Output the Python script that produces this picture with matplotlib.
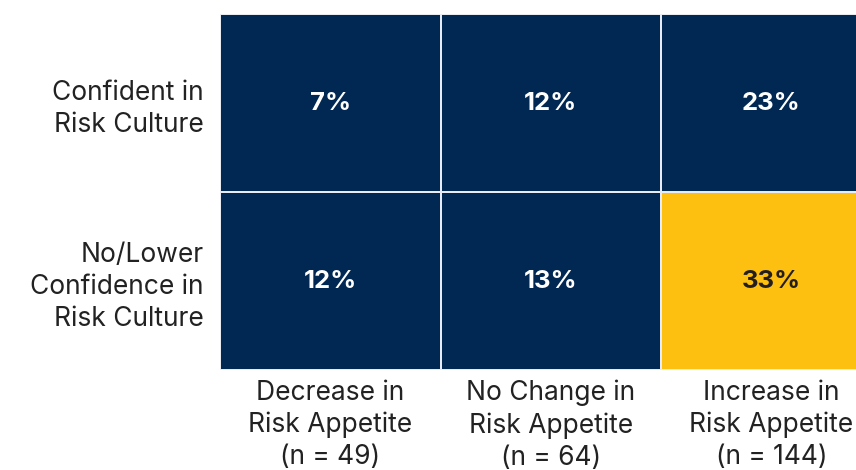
import numpy as np
import matplotlib
matplotlib.use("Agg")
import matplotlib.pyplot as plt
from matplotlib.colors import ListedColormap

# ---------- data ----------
row_labels = ["Confident in\nRisk Culture", "No/Lower\nConfidence in\nRisk Culture"]
col_labels = ["Decrease in\nRisk Appetite\n(n = 49)",
              "No Change in\nRisk Appetite\n(n = 64)",
              "Increase in\nRisk Appetite\n(n = 144)"]
values = np.array([[7, 12, 23],
                   [12, 13, 33]])
highlight = np.array([[0, 0, 0],
                      [0, 0, 1]])

NAVY = "#012753"; GOLD = "#FDC010"; DARK = "#231F20"
plt.rcParams["font.family"] = ["Inter", "DejaVu Sans"]

W, H = 856, 470
fig = plt.figure(figsize=(W/100, H/100), dpi=100)
ax = fig.add_axes([220/W, 100/H, 636/W, 356/H])

ax.pcolormesh(np.arange(4), np.arange(3), highlight, cmap=ListedColormap([NAVY, GOLD]),
              vmin=0, vmax=1, edgecolors="#e8ecf2", linewidth=1.2)
ax.set_xlim(0, 636/220.5)
ax.set_ylim(2, 0)

for i in range(values.shape[0]):
    for j in range(values.shape[1]):
        ax.text(j + 0.5, i + 0.5, f"{values[i, j]}%", ha="center", va="center",
                fontsize=18.5, fontweight="bold",
                color=DARK if highlight[i, j] else "white")

ax.set_xticks(np.arange(3) + 0.5)
ax.set_xticklabels(col_labels, fontsize=19, color="#222222", linespacing=1.3)
ax.set_yticks(np.arange(2) + 0.5)
ax.set_yticklabels(row_labels, fontsize=19, color="#222222", linespacing=1.3, ha="right")
ax.tick_params(length=0, axis="x", pad=7)
ax.tick_params(length=0, axis="y", pad=12)
for s in ax.spines.values():
    s.set_visible(False)

fig.savefig("out.png", dpi=100)
